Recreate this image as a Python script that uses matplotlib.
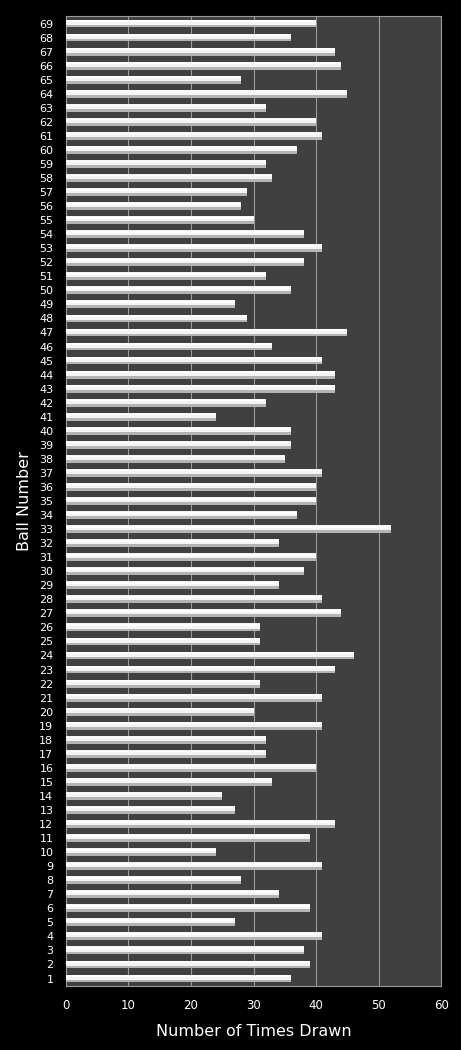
import matplotlib.pyplot as plt
import numpy as np

# Ball numbers 1..69 and how often each was drawn
balls = list(range(1, 70))
times_drawn = [36, 39, 38, 41, 27, 39, 34, 28, 41, 24,
               39, 43, 27, 25, 33, 40, 32, 32, 41, 30,
               41, 31, 43, 46, 31, 31, 44, 41, 34, 38,
               40, 34, 52, 37, 40, 40, 41, 35, 36, 36,
               24, 32, 43, 43, 41, 33, 45, 29, 27, 36,
               32, 38, 41, 38, 30, 28, 29, 33, 32, 37,
               41, 40, 32, 45, 28, 44, 43, 36, 40]
x_ticks = [0, 10, 20, 30, 40, 50, 60]

fig = plt.figure(figsize=(4.61, 10.5), dpi=100, facecolor='black')
ax = fig.add_axes([0.143, 0.0614, 0.814, 0.9229])
ax.set_facecolor('#404040')

y = np.array(balls)
vals = np.array(times_drawn)
bar_h = 0.56

# white bar with a greyish lower shade to mimic the gradient
ax.barh(y, vals, height=bar_h, color='#f4f4f4', edgecolor='none', zorder=3)
ax.barh(y - bar_h * 0.32, vals, height=bar_h * 0.36, color='#b4b4b4',
        edgecolor='none', zorder=4)
ax.barh(y + bar_h * 0.30, vals, height=bar_h * 0.22, color='#ffffff',
        edgecolor='none', zorder=4)

ax.set_xlim(0, 60)
ax.set_ylim(0.5, 69.5)
ax.set_xticks(x_ticks)
ax.set_yticks(balls)
ax.set_yticklabels([str(b) for b in balls])
ax.tick_params(colors='white', labelsize=8, length=0, pad=9)
ax.tick_params(axis='x', pad=10, labelsize=8.5)

ax.grid(axis='x', color='#9a9a9a', linewidth=0.8, zorder=1)
ax.set_axisbelow(True)
for s in ax.spines.values():
    s.set_color('#9a9a9a')
    s.set_linewidth(0.8)

ax.set_xlabel('Number of Times Drawn', color='white', fontsize=11.5, labelpad=8)
ax.set_ylabel('Ball Number', color='white', fontsize=11.5, labelpad=5)

fig.savefig('out.png', dpi=100, facecolor='black')
